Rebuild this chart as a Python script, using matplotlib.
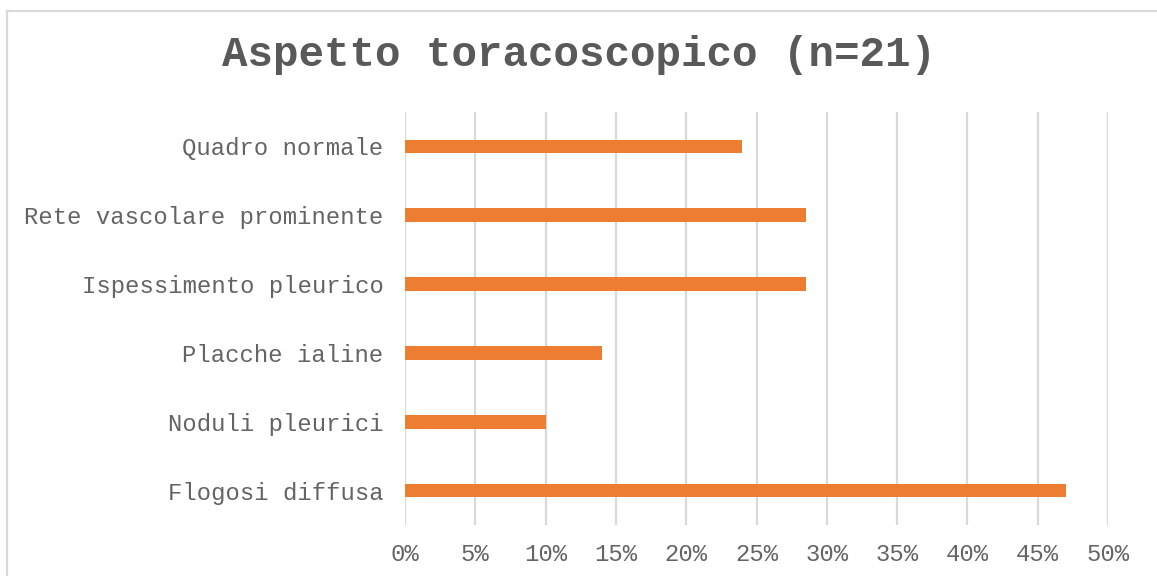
import matplotlib
matplotlib.use("Agg")
import matplotlib.pyplot as plt
from matplotlib.lines import Line2D

categories = ["Quadro normale", "Rete vascolare prominente", "Ispessimento pleurico",
              "Placche ialine", "Noduli pleurici", "Flogosi diffusa"]
values = [24, 28.5, 28.5, 14, 10, 47]
xticks = [0, 5, 10, 15, 20, 25, 30, 35, 40, 45, 50]
xticklabels = [f"{t}%" for t in xticks]
title = "Aspetto toracoscopico (n=21)"

W, H = 1157, 576
fig = plt.figure(figsize=(W / 100, H / 100), dpi=100)
ax = fig.add_axes([405 / W, (H - 525) / H, (1108 - 405) / W, (525 - 112) / H])

ypos = list(range(len(categories)))[::-1]
ax.barh(ypos, values, height=0.2, color="#ED7D31", zorder=3)
ax.set_ylim(-0.5, len(categories) - 0.5)
ax.set_xlim(0, 50)
ax.set_yticks(ypos)
ax.set_yticklabels(categories, family="Liberation Mono", fontsize=17.2, color="#646464")
ax.set_xticks(xticks)
ax.set_xticklabels(xticklabels, family="Liberation Mono", fontsize=17.2, color="#646464")
ax.tick_params(axis="both", length=0)
ax.tick_params(axis="y", pad=15.5)
ax.tick_params(axis="x", pad=13)
ax.grid(axis="x", color="#D9D9D9", linewidth=1.6, zorder=0)
for s in ax.spines.values():
    s.set_visible(False)

fig.text(579 / W, 1 - 55 / H, title, family="Liberation Mono", fontweight="bold",
         fontsize=30.6, color="#595959", ha="center", va="center")

fig.add_artist(Line2D([6.5 / W, 1], [1 - 10.5 / H, 1 - 10.5 / H], color="#D9D9D9", lw=1.6))
fig.add_artist(Line2D([6.5 / W, 6.5 / W], [0, 1 - 10.5 / H], color="#D9D9D9", lw=1.6))

fig.savefig("out.png", dpi=100)
